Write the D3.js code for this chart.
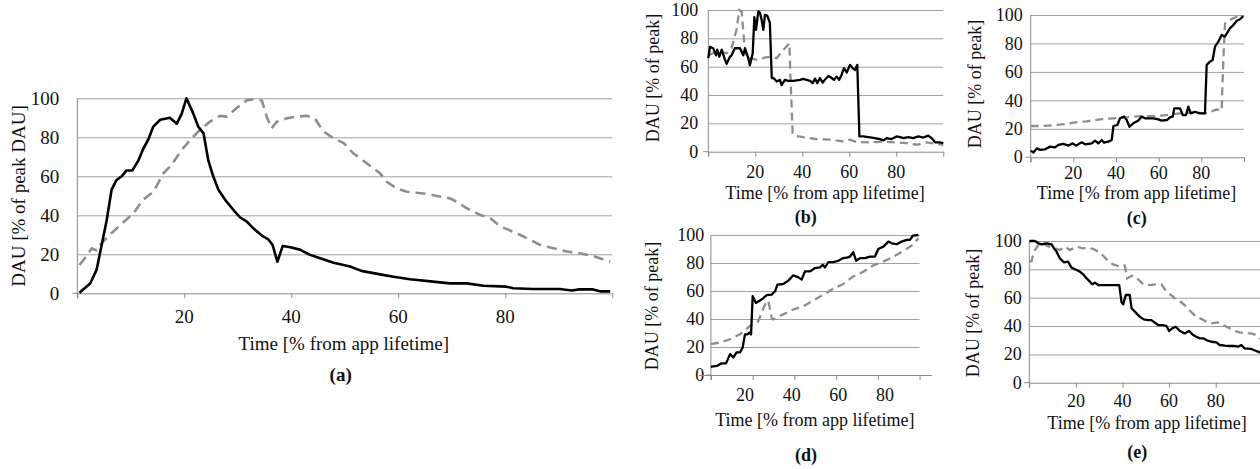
<!DOCTYPE html>
<html lang="en">
<head>
<meta charset="UTF-8">
<title>DAU over app lifetime</title>
<script src="https://cdn.jsdelivr.net/npm/d3@7"></script>
<style>
  body { margin: 0; background: #fff; }
  svg text { font-family: "Liberation Serif", "Times New Roman", serif; fill: #111; }
  .grid line { stroke: #a0a0a0; stroke-width: 1; }
  .grid path { display: none; }
  .xaxis path, .xaxis line, .yline { stroke: #8a8a8a; stroke-width: 1; }
  .solid { fill: none; stroke: #000; stroke-linejoin: round; }
  .dash { fill: none; stroke: #8e8e8e; }
</style>
</head>
<body>
<div id="chart"></div>
<script>
// ---- data (time in % of app lifetime, DAU in % of peak) ----
var yTicks = [0, 20, 40, 60, 80, 100];
var xLabels = [20, 40, 60, 80];

// (a)
var aSolidT = [0.4,2.4,3.6,4.5,5.5,6.4,7.3,8.3,9.2,10.3,11.4,12.3,13.3,14.2,15.5,17.3,18.6,19.5,20.4,21.7,22.6,23.6,24.5,25.4,26.4,27.9,29.2,30.4,31.7,32.9,34.5,35.7,36.5,37.4,38.4,39.8,41.6,43.5,45.4,47.9,51,53.1,56.6,59.1,62.2,66.5,69.6,72.8,75.9,80.2,81.5,85.2,90.2,92.4,93.9,96.4,97.7,99.6];
var aSolidV = [0.3,5,12,24,37.6,53,58,60,63,63,68,74,79,85.5,89,90,87,92,100,92,85.5,82,68,60,53,47,42.7,39,36.8,33.3,29.6,27.7,24.8,16.2,24.3,23.6,22.4,19.7,18,15.7,13.7,11.5,9.7,8.5,7.2,6,5.1,5.1,3.9,3.4,2.6,2.2,2.2,1.4,2,2,1,1];
var aDashT = [0.4,1.4,2.7,3.6,4.5,6.1,8,10.5,12.3,14.2,16.1,17.6,19.5,21.4,22.9,24.8,26.7,27.9,29.8,31.7,32.9,34.5,35.4,36.3,37.3,39.1,41,42.9,44.4,46,47.9,49.8,51.6,54.1,56.6,57.8,59.7,61.6,63.4,65.3,67.2,69.6,70.9,72.8,75.3,77.2,79.1,81,82.8,84.7,86.5,89,91.5,94,96.4,99.6];
var aDashV = [14.5,18,23,22,25.6,30,35,41,48,52,61.5,65.8,73.5,79.5,83.8,88,91,90.6,95,99,99.5,98.8,90.6,84.6,88,89.7,90.6,91,89.7,83,79.5,77,71.8,66.7,61.5,57.3,53.8,52.1,51.6,51,49.9,48.7,47,43.6,40.2,38.5,34.2,32.1,29.9,27.4,24.8,23.1,21.4,20.5,19.1,16.2];

// (b)
var bSolidT = [0,0.7,2.1,3.3,3.8,4.7,5.7,7.1,7.8,9.2,9.9,11.3,13.5,14.9,15.6,17,17.7,18.9,19.6,20.3,21.3,22,22.7,23.4,24.1,25.1,26.2,27,27.7,29.1,30.5,31.2,32.6,34,36.2,39,40.4,41.8,43.3,44.4,45.4,46.4,47.5,48.7,49.6,51.1,52.5,53.5,54.6,55.7,56.7,57.7,58.9,60.3,61.4,62.4,63.4,64.3,66,68.1,70.9,73,74.5,75.9,78,80.1,81.6,83,85.1,87.2,89.4,91.5,93.6,95,96.5,98.6,100];
var bSolidV = [66,74,73,68,72,67,72,65,62,67,68,73,73,68,73,66,61,69.5,95,86,99,98,93,86,96.5,96,91,52,52,49.5,50.7,47,50.7,50,50,50.7,51.4,50.7,50,48.4,51.6,48.4,52,48.8,50.7,53.5,52,50.7,53,50.7,54.2,59,55.9,61.3,59,57.7,61.3,10.8,10.8,10.3,9.6,8.9,8,9.6,8.9,10.8,10.3,9.6,10.3,9.6,10.8,10,11.3,9.6,6.6,6.6,6.1];
var bDashT = [0,3.5,7.8,9.9,12,13.2,14.2,15.3,16.3,20.6,24.8,27,29.1,31.9,34.5,35,35.9,36.9,40.4,46.1,51.8,57.4,60.3,63.1,68.8,74.5,80.1,84.4,88.7,92.9,97.2,100];
var bDashV = [68,70.7,69.5,73,86,100,98.8,76.5,66.7,64.8,66.7,67,66,71.8,76.5,50.7,13,11.3,10.3,8.9,8.5,7.3,8.5,6.8,6.6,7,6.6,6.1,4.9,6.6,5.6,4.9];

// (c)
var cSolidT = [0,1.3,2.8,4.4,6.7,9.1,11.4,13,15.3,17.7,19.7,21.3,23.9,25.5,28.6,30.2,31.7,33.3,34.4,36.4,38,38.8,40.6,41.9,43.8,45,46.3,48.1,50.5,52,53.6,57.5,59.8,61.4,63.8,65.3,66.6,67.3,70,71.3,72.8,73.9,75,77,79.4,81.7,82.5,84,85.3,86.4,88,89.5,91,93.4,95,96.6,98.1,99.7];
var cSolidV = [4.7,3.3,6.3,5.2,5.6,7.5,7,8.7,9.4,8.2,9.8,8.2,10.5,9.1,9.8,11.7,9.8,12.2,10.3,11,12.2,22,22.7,27.4,28.6,26.2,21.5,23.9,25.8,28.6,27.4,27.4,26.7,25.8,26.2,28.1,28.6,34.4,34.4,29.7,29.7,35.6,30.9,32,30.9,30.9,64.9,67.2,68.4,77.8,81.3,86,84.8,90.6,93,96,97,99.3];
var cDashT = [0,4.4,10.6,16.9,20,26.3,32.5,38.8,45,51.3,57.5,63.8,70,76.3,82.5,87.2,89.5,90.3,91.1,93.4,96.6,99];
var cDashV = [22,22,22.5,23.4,24.4,25.3,26.7,27.4,28.1,29,29,29.7,30.9,31.4,30.9,33.7,32.8,68.4,94,96.5,98.8,100];

// (d)
var dSolidT = [5.4,5.7,8.1,10,11.9,13.6,15,16.4,17.9,19,20,21,21.9,22.6,23.3,24.7,27.1,29.3,31.4,32.9,33.9,36.4,38.6,40.7,42.9,44.3,45.7,47.9,50,52.1,53.3,54.3,55.7,57.9,60,62.1,63.6,65,66.4,67.6,69.3,71.4,73.6,75.7,77.1,79.3,81.4,82.9,85,87.1,89.3,90.7,91.9,94.3];
var dSolidV = [5.9,5.9,6.6,8.3,8.3,14.9,12.5,16.1,16.1,19.6,29,29,30.3,29,56.3,51.5,53.9,57,57.4,59.8,64.5,65,67.4,71.2,69.7,68.1,74,74,76.4,76.8,78.7,76.8,80.6,80.6,81.6,83.5,83.9,84.6,87.7,81.6,83.5,83.5,84.6,84.6,90,91.7,95.3,94.1,93.4,95.3,96.5,96.5,99.5,100];
var dDashT = [5.4,9.3,13.6,17.9,22.1,25.7,28.6,30,31.4,32.1,36.4,40.7,45,49.3,53.6,57.9,62.1,66.4,70.7,75,79.3,83.6,87.9,91.4,94.3];
var dDashV = [22,23.2,25.5,29,35,38.5,50.4,53.2,40.9,39.7,43.3,46.8,49.2,53.2,57.4,61.7,65,70.4,73.8,78.3,81,84.6,88.7,92.4,97.6];

// (e)
var eSolidT = [0,2.4,3.9,5.3,7.4,9.6,10.6,11.7,13.1,14.9,16.7,18.1,20.3,21.7,23.1,24.6,26,27.1,28.1,29.6,33.1,36,38.6,39.6,40.3,41.4,43.1,43.9,46,47.4,49.1,51,52.4,53.9,55.3,57.4,58.9,60,61.4,62.9,64.6,66.7,68.6,70,71.7,73.1,74.6,76,78.1,80.3,81.7,83.9,86,88.1,89.6,91,92.4,95.3,97.4,98.9,100];
var eSolidV = [100,100,98.4,97.6,98.4,97.6,94.8,92.5,87.8,84.9,85.4,81.2,79.5,78.4,76.5,73.6,71.3,69.4,70.6,68.9,68.9,68.9,68.9,56.7,55.3,61.9,61.9,52.5,48.9,46.6,44.7,44.2,44.2,42.4,40.7,40.7,40,36.5,38.4,39.5,36.5,34.8,36.5,34.1,32.5,31.3,31.3,30.1,28.9,28.5,26.6,26.1,25.9,25.9,25.4,26.6,24.2,23.8,22.4,21.4,21];
var eDashT = [0,1,2,3.9,5.7,7.4,10.3,13.1,15.3,17.4,20.3,22.9,24.6,27.4,29.6,31.7,33.9,36,38.9,41,42,43.9,46,48.9,51.7,54.6,56.7,58.9,61.7,63.9,65.3,67.4,69.6,71.7,73.9,76,78.1,81,83.1,86,88.1,90.3,93.1,95.3,97.4,98.9,100];
var eDashV = [85.4,85.9,92.5,97.2,99,96.7,95.3,93.6,96,93.6,96,94.8,95.3,94.4,92.5,89.6,85.9,83.5,81.9,82.6,73.6,75.5,74.1,69.4,68.9,69.4,69.4,64.2,60.7,57.6,56.7,53.6,49.6,46.6,44.9,43,41.9,42.6,40.7,38.4,36.5,35.5,34.8,34.8,33.6,31.3,30];

// ---- layout ----
var W = 1260, H = 469;
var svg = d3.select("#chart").append("svg")
    .attr("width", W).attr("height", H)
    .style("display", "block");

var panels = [
  {name:"(a)", solidT:aSolidT, solidV:aSolidV, dashT:aDashT, dashV:aDashV,
   xr:[77.3, 612.3], xAxis:[0, 100], yr:[293.3, 98.3], font:19, lw:2.6, dash:"10,6",
   ytitle:"DAU [% of peak DAU]", ytx:18.3, yty:196, gap:18,
   lab:23.4, ttl:50, let:81, ttlX:343.8, letX:340.7},
  {name:"(b)", solidT:bSolidT, solidV:bSolidV, dashT:bDashT, dashV:bDashV,
   xr:[708.3, 943.3], xAxis:[0, 100], yr:[151.7, 10], font:18, lw:2.3, dash:"8,5",
   ytitle:"DAU [% of peak]", ytx:653.3, yty:78, gap:10,
   lab:20, ttl:41.6, let:65.6, ttlX:825, letX:805.7},
  {name:"(c)", solidT:cSolidT, solidV:cSolidV, dashT:cDashT, dashV:cDashV,
   xr:[1030.7, 1244], xAxis:[0, 100], yr:[157.3, 15], font:18, lw:2.3, dash:"8,5",
   ytitle:"DAU [% of peak]", ytx:975, yty:84, gap:8,
   lab:16, ttl:35.4, let:61, ttlX:1136.5, letX:1136.7},
  {name:"(d)", solidT:dSolidT, solidV:dSolidV, dashT:dDashT, dashV:dDashV,
   xr:[698.3, 931.7], xAxis:[5.4, 94.8], yr:[375, 235], font:18, lw:2.3, dash:"8,5",
   ytitle:"DAU [% of peak]", ytx:651.7, yty:306, gap:6.7,
   lab:20, ttl:45, let:80, ttlX:814.8, letX:806},
  {name:"(e)", solidT:eSolidT, solidV:eSolidV, dashT:eDashT, dashV:eDashV,
   xr:[1029.3, 1262.3], xAxis:[0, 100], yr:[382.7, 241], font:18, lw:2.3, dash:"8,5",
   ytitle:"DAU [% of peak]", ytx:973.3, yty:313, gap:7.6,
   lab:18, ttl:40, let:69, ttlX:1147, letX:1137.3}
];

panels.forEach(function(p) {
    var x = d3.scaleLinear().domain([0, 100]).range(p.xr);
    var y = d3.scaleLinear().domain([0, 100]).range(p.yr);
    var g = svg.append("g");
    var left = x(p.xAxis[0]), right = x(p.xAxis[1]);

    // gridlines
    g.append("g").attr("class", "grid")
        .attr("transform", "translate(" + left + ",0)")
        .call(d3.axisLeft(y).tickValues(yTicks.slice(1)).tickSize(-(right - left)).tickFormat(""));

    // y tick labels
    g.append("g").selectAll("text")
        .data(yTicks).enter().append("text")
        .attr("x", left - p.gap)
        .attr("y", function(d) { return y(d); })
        .attr("dy", "0.34em")
        .attr("text-anchor", "end")
        .style("font-size", p.font + "px")
        .text(function(d) { return d; });

    // y axis line
    g.append("line").attr("class", "yline")
        .attr("x1", left).attr("x2", left)
        .attr("y1", y(100)).attr("y2", y(0) + 5);

    // x axis with tick marks (evenly spaced along the axis)
    var tickVals = d3.range(6).map(function(i) {
        return p.xAxis[0] + i * (p.xAxis[1] - p.xAxis[0]) / 5;
    });
    g.append("g").attr("class", "xaxis")
        .attr("transform", "translate(0," + y(0) + ")")
        .call(d3.axisBottom(x).tickValues(tickVals).tickSize(5).tickSizeOuter(0).tickFormat(""));
    g.append("line").attr("class", "yline")
        .attr("x1", left - 5).attr("x2", left)
        .attr("y1", y(0)).attr("y2", y(0));

    // x labels
    g.append("g").selectAll("text")
        .data(xLabels).enter().append("text")
        .attr("x", function(d) { return x(d); })
        .attr("y", y(0) + p.lab)
        .attr("dy", "0.34em")
        .attr("text-anchor", "middle")
        .style("font-size", p.font + "px")
        .text(function(d) { return d; });

    // lines
    var line = d3.line()
        .x(function(d) { return x(d[0]); })
        .y(function(d) { return y(d[1]); });
    g.append("path").attr("class", "dash")
        .attr("d", line(d3.zip(p.dashT, p.dashV)))
        .attr("stroke-width", p.lw)
        .attr("stroke-dasharray", p.dash);
    g.append("path").attr("class", "solid")
        .attr("d", line(d3.zip(p.solidT, p.solidV)))
        .attr("stroke-width", p.lw);

    // titles
    g.append("text")
        .attr("x", p.ttlX).attr("y", y(0) + p.ttl)
        .attr("dy", "0.34em").attr("text-anchor", "middle")
        .style("font-size", p.font + "px")
        .text("Time [% from app lifetime]");
    g.append("text")
        .attr("x", p.letX).attr("y", y(0) + p.let)
        .attr("dy", "0.34em").attr("text-anchor", "middle")
        .style("font-size", p.font + "px").style("font-weight", "bold")
        .text(p.name);
    g.append("text")
        .attr("transform", "translate(" + p.ytx + "," + p.yty + ") rotate(-90)")
        .attr("dy", "0.34em").attr("text-anchor", "middle")
        .style("font-size", p.font + "px")
        .text(p.ytitle);
});
</script>
</body>
</html>
